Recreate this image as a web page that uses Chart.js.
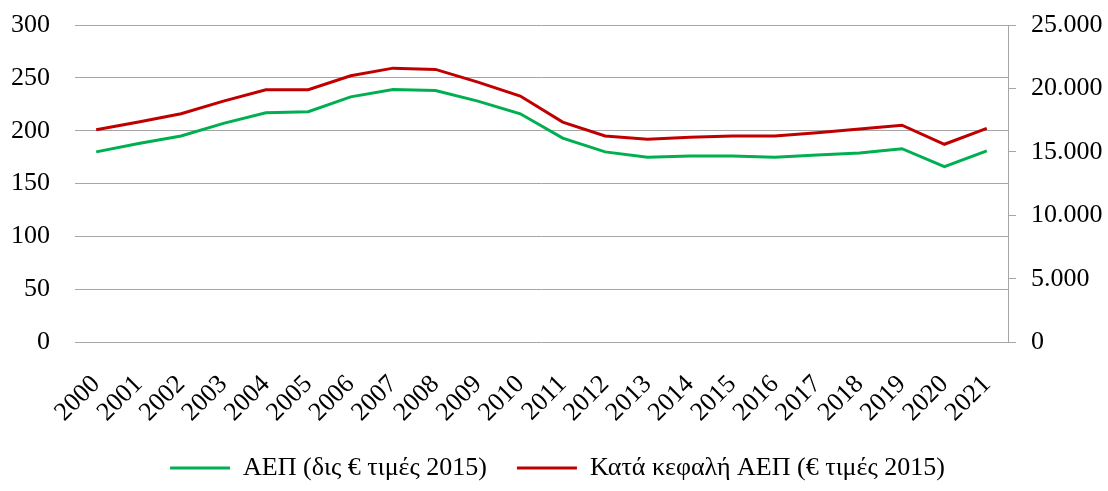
<!DOCTYPE html>
<html>
<head>
<meta charset="utf-8">
<script src="https://cdn.jsdelivr.net/npm/chart.js@4/dist/chart.umd.min.js"></script>
<style>
  html, body { margin: 0; padding: 0; background: #fff; }
  #wrap { width: 1108px; height: 491px; }
</style>
</head>
<body>
<div id="wrap"><canvas id="lineChart"></canvas></div>
<script>
// Έτη
const years = ['2000', '2001', '2002', '2003', '2004', '2005', '2006', '2007', '2008', '2009', '2010',
               '2011', '2012', '2013', '2014', '2015', '2016', '2017', '2018', '2019', '2020', '2021'];

// ΑΕΠ σε δις € (τιμές 2015) - αριστερός άξονας
const gdp = [180, 188, 195, 207, 217, 218, 232, 239, 238, 228, 216,
             193, 180, 175, 176, 176, 175, 177, 179, 183, 166, 181];

// Κατά κεφαλή ΑΕΠ σε € (τιμές 2015) - δεξιός άξονας
const gdpPerCapita = [16750, 17350, 18000, 19000, 19900, 19900, 21000, 21600, 21500, 20500, 19400,
                      17350, 16250, 16000, 16150, 16250, 16250, 16500, 16800, 17100, 15600, 16850];

const leftTicks = [0, 50, 100, 150, 200, 250, 300];
const rightTicks = [0, 5000, 10000, 15000, 20000, 25000];

const gridGray = '#a6a6a6';
const serif = "'Liberation Serif', 'Times New Roman', serif";

window.onload = function() {
    const ctx = document.getElementById('lineChart').getContext('2d');
    new Chart(ctx, {
        type: 'line',
        data: {
            labels: years,
            datasets: [{
                label: 'ΑΕΠ (δις € τιμές 2015)',
                data: gdp,
                yAxisID: 'y',
                borderColor: '#00b050',
                backgroundColor: '#00b050',
                borderWidth: 3,
                pointRadius: 0,
                tension: 0
            }, {
                label: 'Κατά κεφαλή ΑΕΠ (€ τιμές 2015)',
                data: gdpPerCapita,
                yAxisID: 'y2',
                borderColor: '#c00000',
                backgroundColor: '#c00000',
                borderWidth: 3,
                pointRadius: 0,
                tension: 0
            }]
        },
        options: {
            responsive: true,
            maintainAspectRatio: false,
            animation: false,
            layout: { padding: { top: 25, left: 9, right: 2, bottom: 0 } },
            plugins: {
                tooltip: { enabled: false },
                legend: {
                    position: 'bottom',
                    labels: {
                        color: '#000',
                        font: { family: serif, size: 26 },
                        usePointStyle: true,
                        pointStyle: 'line',
                        pointStyleWidth: 60,
                        padding: 30
                    }
                }
            },
            scales: {
                x: {
                    offset: true,
                    grid: { display: false },
                    border: { display: false },
                    ticks: {
                        color: '#000',
                        font: { family: serif, size: 26 },
                        minRotation: 45,
                        maxRotation: 45,
                        autoSkip: false,
                        padding: 19
                    },
                    afterFit: function(scale) {
                        // οι ετικέτες μπαίνουν πιο χαμηλά χωρίς να μετακινηθεί το υπόμνημα
                        scale.paddingLeft = 0;
                        scale.paddingRight = 0;
                        scale.height -= 22;
                    }
                },
                y: {
                    position: 'left',
                    min: 0,
                    max: 300,
                    afterBuildTicks: function(scale) { scale.ticks = leftTicks.map(v => ({ value: v })); },
                    afterFit: function(scale) {
                        scale.width = 66;
                        scale.paddingTop = 0;
                        scale.paddingBottom = 0;
                    },
                    grid: { color: gridGray, lineWidth: 1, drawTicks: false },
                    border: { display: false },
                    ticks: {
                        color: '#000',
                        font: { family: serif, size: 26 },
                        padding: 25
                    }
                },
                y2: {
                    position: 'right',
                    min: 0,
                    max: 25000,
                    afterBuildTicks: function(scale) { scale.ticks = rightTicks.map(v => ({ value: v })); },
                    afterFit: function(scale) {
                        scale.width = 98;
                        scale.paddingTop = 0;
                        scale.paddingBottom = 0;
                    },
                    grid: { drawOnChartArea: false, color: gridGray, tickLength: 8 },
                    border: { display: true, color: gridGray },
                    ticks: {
                        color: '#000',
                        font: { family: serif, size: 26 },
                        padding: 15,
                        callback: function(v) {
                            return String(v).replace(/\B(?=(\d{3})+(?!\d))/g, '.');
                        }
                    }
                }
            }
        }
    });
};
</script>
</body>
</html>
